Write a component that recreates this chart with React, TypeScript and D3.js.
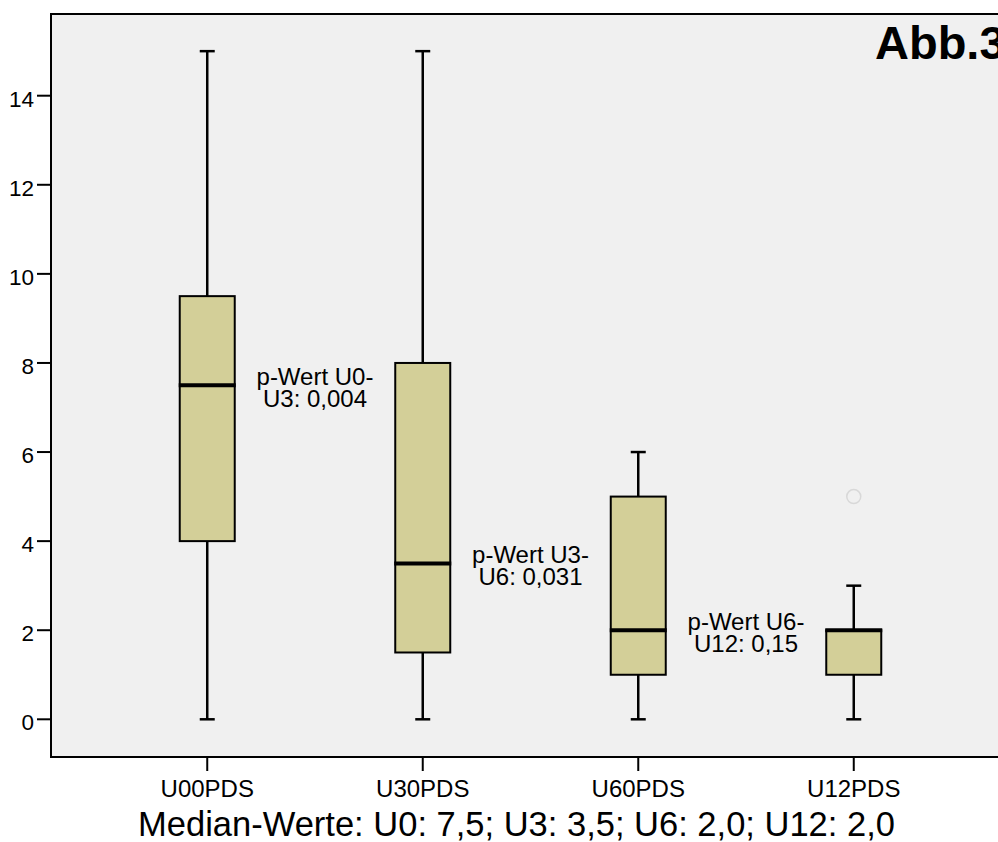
import React, { useEffect, useRef } from "react";
import * as d3 from "d3";

// values
const categories = ["U00PDS", "U30PDS", "U60PDS", "U12PDS"];
const whiskerLow = [0, 0, 0, 0];
const quart1 = [4, 1.5, 1, 1];
const medians = [7.5, 3.5, 2, 2];
const quart3 = [9.5, 8, 5, 2];
const whiskerHigh = [15, 15, 6, 3];
const outliers = [[], [], [], [5]];
const yTicks = [0, 2, 4, 6, 8, 10, 12, 14];
const pLabels = [
  ["p-Wert U0-", "U3: 0,004"],
  ["p-Wert U3-", "U6: 0,031"],
  ["p-Wert U6-", "U12: 0,15"],
];
const footnote = "Median-Werte: U0: 7,5; U3: 3,5; U6: 2,0; U12: 2,0";
const title = "Abb.3";

export default function App() {
  const ref = useRef(null);

  useEffect(() => {
    var W = 998,
      H = 842;
    var left = 51,
      right = 1010,
      top = 14,
      bottom = 757;
    var font = "'Liberation Sans', Arial, sans-serif";

    var svg = d3.select(ref.current);
    svg.selectAll("*").remove();
    svg.attr("width", W).attr("height", H);

    svg.append("rect").attr("width", W).attr("height", H).attr("fill", "#fff");

    var x = d3.scalePoint().domain(categories).range([left, right]).padding(0.725);
    var y = d3.scaleLinear().domain([0, 14]).range([719.3, 95.7]);

    // plot frame
    svg
      .append("rect")
      .attr("x", left)
      .attr("y", top)
      .attr("width", right - left)
      .attr("height", bottom - top)
      .attr("fill", "#f0f0f0")
      .attr("stroke", "#000")
      .attr("stroke-width", 2);

    // y axis ticks + labels
    var yAxis = svg.append("g");
    yAxis
      .selectAll("line")
      .data(yTicks)
      .join("line")
      .attr("x1", left - 14)
      .attr("x2", left)
      .attr("y1", (d) => y(d))
      .attr("y2", (d) => y(d))
      .attr("stroke", "#000")
      .attr("stroke-width", 2);
    yAxis
      .selectAll("text")
      .data(yTicks)
      .join("text")
      .attr("x", 34)
      .attr("y", (d) => y(d) + 11)
      .attr("text-anchor", "end")
      .attr("font-family", font)
      .attr("font-size", 22.5)
      .text((d) => d);

    // x axis ticks + labels
    var xAxis = svg.append("g");
    xAxis
      .selectAll("line")
      .data(categories)
      .join("line")
      .attr("x1", (d) => x(d))
      .attr("x2", (d) => x(d))
      .attr("y1", bottom)
      .attr("y2", bottom + 14)
      .attr("stroke", "#000")
      .attr("stroke-width", 2);
    xAxis
      .selectAll("text")
      .data(categories)
      .join("text")
      .attr("x", (d) => x(d))
      .attr("y", 797)
      .attr("text-anchor", "middle")
      .attr("font-family", font)
      .attr("font-size", 24)
      .text((d) => d);

    var boxW = 55,
      capW = 15;
    var boxes = svg
      .append("g")
      .selectAll("g")
      .data(categories)
      .join("g")
      .attr("transform", (d) => `translate(${x(d)},0)`);

    // whiskers
    boxes
      .append("line")
      .attr("y1", (d, i) => y(whiskerLow[i]))
      .attr("y2", (d, i) => y(whiskerHigh[i]))
      .attr("stroke", "#000")
      .attr("stroke-width", 2.5);
    boxes
      .append("line")
      .attr("x1", -capW / 2)
      .attr("x2", capW / 2)
      .attr("y1", (d, i) => y(whiskerHigh[i]))
      .attr("y2", (d, i) => y(whiskerHigh[i]))
      .attr("stroke", "#000")
      .attr("stroke-width", 2.5);
    boxes
      .append("line")
      .attr("x1", -capW / 2)
      .attr("x2", capW / 2)
      .attr("y1", (d, i) => y(whiskerLow[i]))
      .attr("y2", (d, i) => y(whiskerLow[i]))
      .attr("stroke", "#000")
      .attr("stroke-width", 2.5);

    // box
    boxes
      .append("rect")
      .attr("x", -boxW / 2)
      .attr("y", (d, i) => y(quart3[i]))
      .attr("width", boxW)
      .attr("height", (d, i) => y(quart1[i]) - y(quart3[i]))
      .attr("fill", "#d3cf98")
      .attr("stroke", "#000")
      .attr("stroke-width", 2);

    // median
    boxes
      .append("line")
      .attr("x1", -boxW / 2 - 1)
      .attr("x2", boxW / 2 + 1)
      .attr("y1", (d, i) => y(medians[i]))
      .attr("y2", (d, i) => y(medians[i]))
      .attr("stroke", "#000")
      .attr("stroke-width", 4);

    // outliers
    boxes
      .selectAll("circle")
      .data((d, i) => outliers[i])
      .join("circle")
      .attr("r", 7)
      .attr("cy", (d) => y(d))
      .attr("fill", "none")
      .attr("stroke", "#d8d8d8")
      .attr("stroke-width", 1.5);

    // p-value annotations between neighbouring boxes
    var notes = svg
      .append("g")
      .selectAll("text")
      .data(pLabels)
      .join("text")
      .attr("text-anchor", "middle")
      .attr("font-family", font)
      .attr("font-size", 24);
    notes
      .selectAll("tspan")
      .data((d, i) => d.map((t) => ({ t, i })))
      .join("tspan")
      .attr("x", (d) => (x(categories[d.i]) + x(categories[d.i + 1])) / 2)
      .attr("y", (d, j) => y(medians[d.i]) + j * 22)
      .text((d) => d.t);

    svg
      .append("text")
      .attr("x", 875)
      .attr("y", 59)
      .attr("font-family", font)
      .attr("font-weight", "bold")
      .attr("font-size", 47)
      .text(title);

    svg
      .append("text")
      .attr("x", 516.5)
      .attr("y", 836)
      .attr("text-anchor", "middle")
      .attr("font-family", font)
      .attr("font-size", 34.5)
      .text(footnote);
  }, []);

  return (
    <div>
      <style>{`body{margin:0}`}</style>
      <svg ref={ref} style={{ display: "block" }}></svg>
    </div>
  );
}
